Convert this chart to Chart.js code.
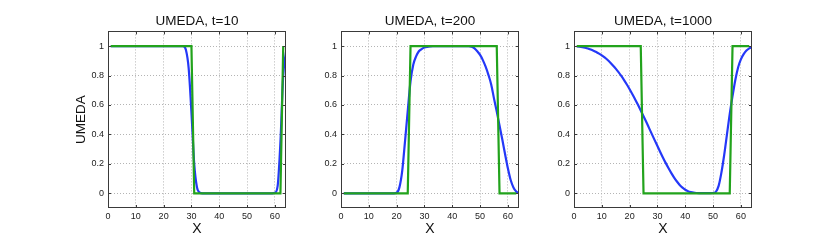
<!DOCTYPE html>
<html>
<head>
<meta charset="utf-8">
<script src="https://cdn.jsdelivr.net/npm/chart.js@4"></script>
<style>
  html, body { margin: 0; padding: 0; background: #fff; }
  #wrap { position: relative; width: 830px; height: 250px; overflow: hidden; }
  canvas { position: absolute; top: 0; }
</style>
</head>
<body>
<div id="wrap">
  <canvas id="c1" width="235" height="250" style="left:63px"></canvas>
  <canvas id="c2" width="235" height="250" style="left:296px"></canvas>
  <canvas id="c3" width="235" height="250" style="left:529px"></canvas>
</div>
<script>
// grid points
const xBlue = [1,2,3,4,5,6,7,8,9,10,11,12,13,14,15,16,17,18,19,20,21,22,23,24,25,26,27,28,29,30,31,32,
  33,34,35,36,37,38,39,40,41,42,43,44,45,46,47,48,49,50,51,52,53,54,55,56,57,58,59,60,61,62,63,64];
const xGreen = [1,2,3,4,5,6,7,8,9,10,11,12,13,14,15,16,17,18,19,20,21,22,23,24,25,26,27,28,29,30,31,32,
  33,34,35,36,37,38,39,40,41,42,43,44,45,46,47,48,49,50,51,52,53,54,55,56,57,58,59,60,61,62,63];

const xTicks = [0, 10, 20, 30, 40, 50, 60];
const xTickLabels = ["0", "10", "20", "30", "40", "50", "60"];
const yTicks = [0, 0.2, 0.4, 0.6, 0.8, 1];
const yTickLabels = ["0", "0.2", "0.4", "0.6", "0.8", "1"];

// t=10
const blue10 = [1,1,1,1,1,1,1,1,1,1,1,1,1,1,1,1,1,1,1,1,1,1,1,1,1,1,1,
  0.975,0.85,0.55,0.2,0.04,0.005,
  0,0,0,0,0,0,0,0,0,0,0,0,0,0,0,0,0,0,0,0,0,0,0,0,0,0,
  0.003,0.05,0.35,0.8,0.96];
const green10 = [1,1,1,1,1,1,1,1,1,1,1,1,1,1,1,1,1,1,1,1,1,1,1,1,1,1,1,1,1,1,
  0,0,0,0,0,0,0,0,0,0,0,0,0,0,0,0,0,0,0,0,0,0,0,0,0,0,0,0,0,0,0,0,
  1];

// t=200
const blue200 = [0,0,0,0,0,0,0,0,0,0,0,0,0,0,0,0,0,0,0,
  0.003,0.04,0.15,0.35,0.56,0.76,0.875,0.93,0.965,0.98,0.99,0.995,0.998,
  1,1,1,1,1,1,1,1,1,1,1,1,1,1,
  0.995,0.985,0.965,0.94,0.905,0.86,0.805,0.74,0.645,0.555,0.46,0.365,0.265,0.17,0.09,0.04,0.012,0.002];
const green200 = [0,0,0,0,0,0,0,0,0,0,0,0,0,0,0,0,0,0,0,0,0,0,0,0,
  1,1,1,1,1,1,1,1,1,1,1,1,1,1,1,1,1,1,1,1,1,1,1,1,1,1,1,1,1,1,1,1,
  0,0,0,0,0,0,0];

// t=1000
const blue1000 = [0.998,0.996,0.993,0.989,0.984,0.977,0.969,0.96,0.949,0.937,0.923,0.907,0.889,0.869,0.847,0.823,
  0.797,0.769,0.739,0.707,0.673,0.638,0.601,0.563,0.524,0.484,0.443,0.402,0.361,0.321,0.281,0.242,
  0.205,0.17,0.137,0.107,0.08,0.057,0.038,0.024,0.014,0.008,0.004,0.002,0.001,0.001,0.001,0.001,
  0.001,0.002,0.01,0.05,0.14,0.26,0.4,0.54,0.66,0.77,0.855,0.91,0.945,0.97,0.985,0.993];
const green1000 = [1,1,1,1,1,1,1,1,1,1,1,1,1,1,1,1,1,1,1,1,1,1,1,1,
  0,0,0,0,0,0,0,0,0,0,0,0,0,0,0,0,0,0,0,0,0,0,0,0,0,0,0,0,0,0,0,0,
  1,1,1,1,1,1,1];

const BLUE = "#2438f8";
const GREEN = "#22a31c";
const FONT = "'Liberation Sans', Arial, Helvetica, sans-serif";

Chart.defaults.font.family = FONT;
Chart.defaults.color = "#222";

// box around the axes plus small inward tick marks (matlab style)
const boxPlugin = {
    id: "box",
    afterDraw(chart) {
        const { ctx, chartArea: a, scales } = chart;
        const tl = 3;
        ctx.save();
        ctx.strokeStyle = "#3a3a3a";
        ctx.lineWidth = 1;
        ctx.strokeRect(Math.round(a.left) + 0.5, Math.round(a.top) + 0.5,
            Math.round(a.right) - Math.round(a.left) - 1, Math.round(a.bottom) - Math.round(a.top) - 1);
        ctx.beginPath();
        xTicks.forEach(v => {
            const px = Math.round(scales.x.getPixelForValue(v)) + 0.5;
            ctx.moveTo(px, a.bottom); ctx.lineTo(px, a.bottom - tl);
            ctx.moveTo(px, a.top); ctx.lineTo(px, a.top + tl);
        });
        yTicks.forEach(v => {
            const py = Math.round(scales.y.getPixelForValue(v)) + 0.5;
            ctx.moveTo(a.left, py); ctx.lineTo(a.left + tl, py);
            ctx.moveTo(a.right, py); ctx.lineTo(a.right - tl, py);
        });
        ctx.stroke();
        ctx.restore();
    }
};

function makePanel(id, title, blue, green, showYTitle) {
    return new Chart(document.getElementById(id), {
        type: "line",
        data: {
            datasets: [
                {
                    label: "exact",
                    data: xGreen.map((x, i) => ({ x: x, y: green[i] })),
                    borderColor: GREEN,
                    borderWidth: 2.2,
                    pointRadius: 0,
                    tension: 0
                },
                {
                    label: "UMEDA",
                    data: xBlue.map((x, i) => ({ x: x, y: blue[i] })),
                    borderColor: BLUE,
                    borderWidth: 2.2,
                    pointRadius: 0,
                    cubicInterpolationMode: "monotone"
                }
            ]
        },
        options: {
            responsive: false,
            animation: false,
            devicePixelRatio: 1,
            layout: { padding: { top: 0, right: 12, bottom: 0, left: 0 } },
            plugins: {
                legend: { display: false },
                tooltip: { enabled: false },
                title: {
                    display: true,
                    fullSize: false,
                    text: title,
                    color: "#111",
                    font: { size: 13.5, weight: "normal" },
                    padding: { top: 13.4, bottom: 1.8 }
                }
            },
            scales: {
                x: {
                    type: "linear",
                    min: 0,
                    max: 64,
                    afterBuildTicks: s => { s.ticks = xTicks.map(v => ({ value: v })); },
                    afterFit: s => { s.height = 42; },
                    grid: { color: "#b4b4b4", drawTicks: false },
                    border: { display: false, dash: [1, 2] },
                    ticks: {
                        padding: 3,
                        autoSkip: false,
                        maxRotation: 0,
                        font: { size: 9 },
                        callback: (v, i) => xTickLabels[i]
                    },
                    title: {
                        display: true,
                        text: "X",
                        color: "#111",
                        font: { size: 14 },
                        padding: { top: 0, bottom: 12 }
                    }
                },
                y: {
                    min: -0.1,
                    max: 1.1,
                    afterBuildTicks: s => { s.ticks = yTicks.map(v => ({ value: v })); },
                    afterFit: s => { s.width = 45; },
                    grid: { color: "#b4b4b4", drawTicks: false },
                    border: { display: false, dash: [1, 2] },
                    ticks: {
                        padding: 4,
                        font: { size: 9 },
                        callback: (v, i) => yTickLabels[i]
                    },
                    title: {
                        display: showYTitle,
                        text: "UMEDA",
                        color: "#111",
                        font: { size: 13.5 },
                        padding: { top: 10.6, bottom: 0 }
                    }
                }
            }
        },
        plugins: [boxPlugin]
    });
}

makePanel("c1", "UMEDA, t=10", blue10, green10, true);
makePanel("c2", "UMEDA, t=200", blue200, green200, false);
makePanel("c3", "UMEDA, t=1000", blue1000, green1000, false);
</script>
</body>
</html>
